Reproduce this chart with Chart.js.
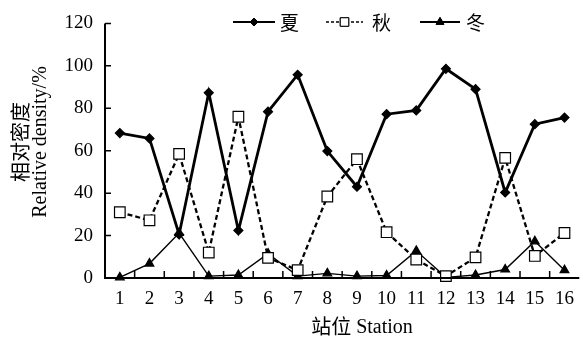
<!DOCTYPE html>
<html>
<head>
<meta charset="utf-8">
<script src="https://cdn.jsdelivr.net/npm/chart.js@4/dist/chart.umd.min.js"></script>
<style>
  html, body { margin: 0; padding: 0; background: #fff; }
  #wrap { width: 588px; height: 337px; }
</style>
</head>
<body>
<div id="wrap"><canvas id="chart" width="588" height="337"></canvas></div>
<script>
// Data
const stations = ['1', '2', '3', '4', '5', '6', '7', '8', '9', '10', '11', '12', '13', '14', '15', '16'];
const summer = [68.3, 65.8, 20.5, 87.3, 22.4, 78.4, 95.8, 59.8, 43, 77.2, 79, 98.6, 89, 40.3, 72.5, 75.6];
const autumn = [31, 27.2, 58.5, 12, 76, 9.5, 3.7, 38.4, 56, 21.6, 8.7, 0.9, 9.7, 56.6, 10.4, 21.2];
const winter = [0.3, 6.8, 21.2, 0.9, 1.4, 11.5, 0.9, 2.2, 0.9, 1.2, 12.8, 0.3, 1.4, 4, 17.3, 3.7];
const seriesNames = ['夏', '秋', '冬'];
const yTicks = [0, 20, 40, 60, 80, 100, 120];

const SERIF = '"Liberation Serif", "Times New Roman", "Noto Sans CJK SC", serif';
const CJK = '"Noto Sans CJK SC", "Liberation Serif", serif';

const styles = [
    { borderWidth: 2.8, borderDash: [], pointStyle: 'rectRot', pointRadius: 4.5, fill: '#000' },
    { borderWidth: 2.3, borderDash: [5, 3], pointStyle: 'rect', pointRadius: 7.5, fill: '#fff' },
    { borderWidth: 1.4, borderDash: [], pointStyle: 'triangle', pointRadius: 5, fill: '#000' },
];

// Axes with inward ticks, titles and the line-sample legend
const frame = {
    id: 'frame',
    afterDatasetsDraw(chart) {
        const { ctx, chartArea, scales } = chart;
        const x = scales.x, y = scales.y;
        ctx.save();
        ctx.strokeStyle = '#000';
        ctx.lineWidth = 2;
        ctx.beginPath();
        ctx.moveTo(chartArea.left, y.getPixelForValue(120));
        ctx.lineTo(chartArea.left, y.getPixelForValue(0));
        ctx.lineTo(chartArea.right, y.getPixelForValue(0));
        ctx.stroke();

        ctx.lineWidth = 1.5;
        ctx.beginPath();
        yTicks.forEach(v => {
            const py = y.getPixelForValue(v);
            ctx.moveTo(chartArea.left, py);
            ctx.lineTo(chartArea.left + 6, py);
        });
        for (let i = 0; i < stations.length - 1; i++) {
            const px = (x.getPixelForValue(i) + x.getPixelForValue(i + 1)) / 2;
            ctx.moveTo(px, y.getPixelForValue(0));
            ctx.lineTo(px, y.getPixelForValue(0) - 7);
        }
        ctx.stroke();

        // axis titles
        ctx.fillStyle = '#000';
        ctx.textAlign = 'center';
        ctx.textBaseline = 'middle';
        ctx.save();
        ctx.translate(20, 142);
        ctx.rotate(-Math.PI / 2);
        ctx.font = '20px ' + CJK;
        ctx.fillText('相对密度', 0, 0);
        ctx.restore();
        ctx.save();
        ctx.translate(41, 142);
        ctx.rotate(-Math.PI / 2);
        ctx.font = '20px ' + SERIF;
        ctx.fillText('Relative density/%', 0, 0);
        ctx.restore();

        ctx.textAlign = 'left';
        ctx.font = '20px ' + CJK;
        const t1 = '站位';
        const w1 = ctx.measureText(t1).width;
        ctx.font = '20px ' + SERIF;
        const t2 = ' Station';
        const w2 = ctx.measureText(t2).width;
        let sx = 362 - (w1 + w2) / 2;
        ctx.font = '20px ' + CJK;
        ctx.fillText(t1, sx, 326);
        ctx.font = '20px ' + SERIF;
        ctx.fillText(t2, sx + w1, 328);

        // legend
        const items = [
            { x0: 233, x1: 275, tx: 280 },
            { x0: 326, x1: 363, tx: 372 },
            { x0: 420, x1: 460, tx: 466 },
        ];
        const ly = 22;
        items.forEach((it, i) => {
            const s = styles[i];
            ctx.lineWidth = i === 1 ? 1.6 : 2;
            ctx.setLineDash(s.borderDash.length ? [3, 2] : []);
            ctx.beginPath();
            ctx.moveTo(it.x0, ly);
            ctx.lineTo(it.x1, ly);
            ctx.stroke();
            ctx.setLineDash([]);
            ctx.fillStyle = s.fill;
            ctx.lineWidth = 1;
            Chart.helpers.drawPoint(ctx, {
                pointStyle: s.pointStyle,
                radius: i === 1 ? 6 : (i === 0 ? 4 : 4.5),
                rotation: 0,
                borderWidth: 1,
            }, (it.x0 + it.x1) / 2, ly);
            ctx.fill();
            ctx.stroke();
            ctx.fillStyle = '#000';
            ctx.font = '19px ' + CJK;
            ctx.textBaseline = 'middle';
            ctx.fillText(seriesNames[i], it.tx, ly + 1);
        });
        ctx.restore();
    }
};

const seriesData = [summer, autumn, winter];

new Chart(document.getElementById('chart'), {
    type: 'line',
    data: {
        labels: stations,
        datasets: seriesData.map((d, i) => ({
            label: seriesNames[i],
            data: d,
            borderColor: '#000',
            borderWidth: styles[i].borderWidth,
            borderDash: styles[i].borderDash,
            pointStyle: styles[i].pointStyle,
            pointRadius: styles[i].pointRadius,
            pointBackgroundColor: styles[i].fill,
            pointBorderColor: '#000',
            pointBorderWidth: 1.2,
            tension: 0,
            clip: false,
            order: i === 1 ? 0 : 1,
        }))
    },
    options: {
        responsive: false,
        animation: false,
        layout: { padding: { top: 21, right: 0, left: 0, bottom: 0 } },
        plugins: {
            legend: { display: false },
            tooltip: { enabled: false },
        },
        scales: {
            x: {
                offset: true,
                grid: { display: false, drawTicks: false },
                border: { display: false },
                ticks: {
                    color: '#000',
                    font: { family: SERIF, size: 19 },
                    padding: 10,
                    maxRotation: 0,
                    autoSkip: false,
                },
                afterFit(scale) { scale.height = 59; },
            },
            y: {
                min: 0,
                max: 120,
                grid: { display: false, drawTicks: false },
                border: { display: false },
                ticks: {
                    stepSize: 20,
                    color: '#000',
                    font: { family: SERIF, size: 19 },
                    padding: 12,
                },
                afterFit(scale) { scale.width = 105; },
            },
        },
    },
    plugins: [frame],
});
</script>
</body>
</html>
